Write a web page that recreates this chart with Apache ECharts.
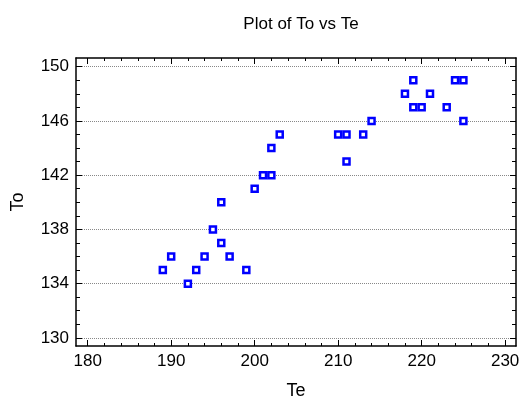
<!DOCTYPE html>
<html>
<head>
<meta charset="utf-8">
<script src="https://cdn.jsdelivr.net/npm/echarts@6/dist/echarts.min.js"></script>
<style>
  html, body { margin: 0; padding: 0; background: #fff; }
  #chart { width: 520px; height: 399px; }
</style>
</head>
<body>
<div id="chart"></div>
<script>
// Te / To pairs
var te = [189, 190, 192, 193, 194, 195, 196, 196, 197, 199, 200, 201, 202, 202, 203,
          210, 211, 211, 213, 214, 218, 219, 219, 220, 221, 223, 224, 225, 225]
var to = [135, 136, 134, 135, 136, 138, 140, 137, 136, 135, 141, 142, 142, 144, 145,
          145, 145, 143, 145, 146, 148, 149, 147, 147, 148, 147, 149, 149, 146]

var xMajor = [180, 190, 200, 210, 220, 230]
var xMinor = [182, 184, 186, 188, 192, 194, 196, 198, 202, 204, 206, 208,
              212, 214, 216, 218, 222, 224, 226, 228]
var yMajor = [130, 134, 138, 142, 146, 150]
var yMinor = [131, 132, 133, 135, 136, 137, 139, 140, 141, 143, 144, 145, 147, 148, 149]

var xRange = { min: 178.6, max: 231.3 }
var yRange = { min: 129.4, max: 150.64 }
var font = 'Liberation Sans, Arial, sans-serif'

function xAxisOf(pos, values, len, main) {
  return {
    type: 'value',
    position: pos,
    min: xRange.min,
    max: xRange.max,
    axisLine: { show: main, onZero: false, lineStyle: { color: '#000', width: 1.5 } },
    axisTick: { show: true, inside: true, length: len, customValues: values, lineStyle: { color: '#000' } },
    axisLabel: { show: main && pos === 'bottom', customValues: values, color: '#000', fontSize: 17, fontFamily: font, margin: 7 },
    splitLine: { show: false },
    name: main && pos === 'bottom' ? 'Te' : '',
    nameLocation: 'middle',
    nameGap: 36,
    nameTextStyle: { color: '#000', fontSize: 18, fontFamily: font }
  }
}

function yAxisOf(pos, values, len, main) {
  return {
    type: 'value',
    position: pos,
    min: yRange.min,
    max: yRange.max,
    axisLine: { show: main, onZero: false, lineStyle: { color: '#000', width: 1.5 } },
    axisTick: { show: true, inside: true, length: len, customValues: values, lineStyle: { color: '#000' } },
    axisLabel: { show: main && pos === 'left', customValues: values, color: '#000', fontSize: 17, fontFamily: font, margin: 7 },
    splitLine: {
      show: main && pos === 'left',
      lineStyle: { color: '#888', type: [1, 1], width: 1 }
    },
    name: main && pos === 'left' ? 'To' : '',
    nameLocation: 'middle',
    nameGap: 49,
    nameTextStyle: { color: '#000', fontSize: 18, fontFamily: font }
  }
}

var chart = echarts.init(document.getElementById('chart'))
chart.setOption({
  animation: false,
  backgroundColor: '#fff',
  title: {
    text: 'Plot of To vs Te',
    left: 296,
    textAlign: 'center',
    top: 11,
    textStyle: { color: '#000', fontSize: 17, fontWeight: 'normal', fontFamily: font }
  },
  grid: { left: 76, right: 4, top: 58, bottom: 53, containLabel: false, outerBoundsMode: 'none' },
  xAxis: [
    xAxisOf('bottom', xMajor, 6, true),
    xAxisOf('bottom', xMinor, 3, false),
    xAxisOf('top', xMajor, 6, true),
    xAxisOf('top', xMinor, 3, false)
  ],
  yAxis: [
    yAxisOf('left', yMajor, 6, true),
    yAxisOf('left', yMinor, 4, false),
    yAxisOf('right', yMajor, 6, true),
    yAxisOf('right', yMinor, 4, false)
  ],
  series: [
    {
      type: 'scatter',
      xAxisIndex: 0,
      yAxisIndex: 0,
      symbol: 'rect',
      symbolSize: 6,
      itemStyle: { color: '#fff', borderColor: '#0000ff', borderWidth: 2.5, opacity: 1 },
      data: te.map(function (v, i) { return [v, to[i]] })
    }
  ]
})
</script>
</body>
</html>
